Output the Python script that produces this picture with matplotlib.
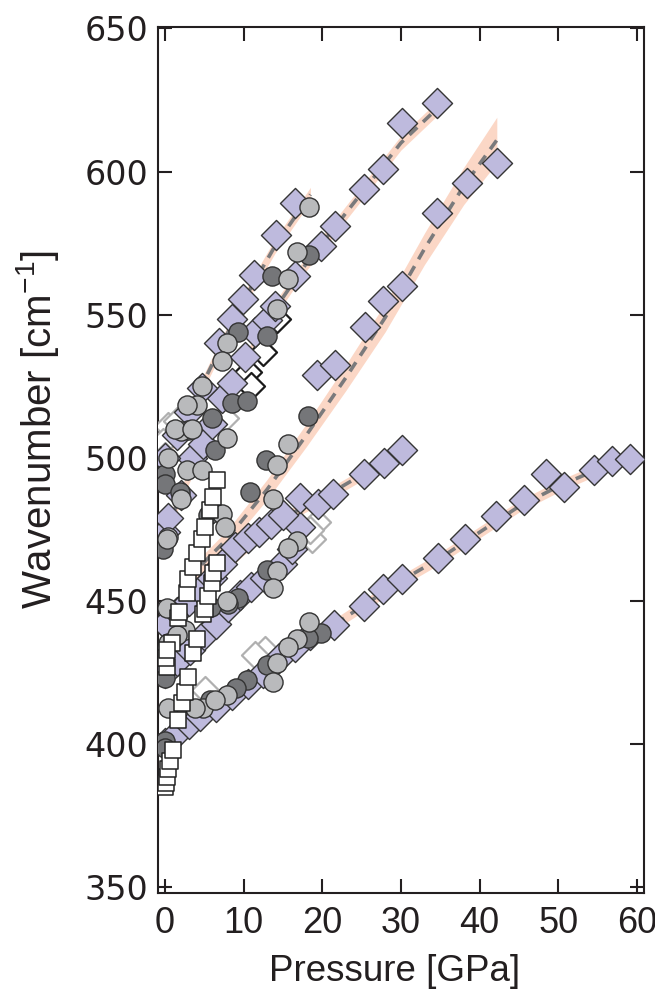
import numpy as np
import matplotlib
matplotlib.use("Agg")
import matplotlib.pyplot as plt

# ---- data (pressure GPa, wavenumber cm-1) ----
# purple diamonds, one list per branch
dia_b1_p = [0.0, 1.5, 3.0, 4.5, 6.5, 8.5, 10.5, 12.5, 14.5, 16.5, 18.5, 21.5, 25.3, 27.7,
            30.1, 34.7, 38.2, 42.1, 45.7, 48.5, 50.7, 54.5, 56.9, 59.1]
dia_b1_w = [400.5, 404, 407, 410, 413, 417, 421, 425, 430, 434, 438, 441.7, 448.3, 454.2,
            457.6, 464.9, 471.5, 479.8, 485.3, 494.3, 489.8, 495.7, 498.8, 499.5]
dia_b2a_p = [0.0, 1.5, 3.2, 5.0, 6.5, 8.0, 9.5, 11.0, 12.7, 14.9, 16.2, 17.2]
dia_b2a_w = [425, 429, 433, 438, 442, 448, 452, 455, 458, 463, 468, 476]
dia_b2b_p = [0.0, 1.5, 3.0, 4.5, 6.0, 7.2, 8.9, 10.5, 12.0, 13.5, 15.0, 17.2, 19.5, 21.4,
             25.3, 27.8, 30.1]
dia_b2b_w = [442, 446, 450, 454, 458, 463, 469, 472, 474, 477, 480, 486, 484, 487.4,
             494.3, 498.1, 502.6]
dia_b3_p = [19.4, 21.6, 25.4, 27.7, 30.1, 34.6, 38.4, 42.2]
dia_b3_w = [529, 532.5, 545.8, 554.8, 560, 585.6, 596, 603]
dia_b4_p = [0.0, 0.4, 2.0, 3.4, 4.8, 6.0, 7.2, 8.5, 10.2, 11.4, 13.0, 14.0, 16.5, 19.8,
            21.6, 25.3, 27.7, 30.1, 34.6]
dia_b4_w = [474, 479, 487, 500, 504.7, 512, 521, 526, 535.4, 544, 548, 553, 563.5, 574,
            581, 594, 601, 617, 624]
dia_b5_p = [0.0, 1.5, 3.0, 4.7, 6.9, 8.5, 9.9, 11.3, 14.1, 16.5]
dia_b5_w = [500, 508, 516, 524.4, 540, 548.6, 555.5, 564, 578, 589]

# light grey circles
lc_p = [18.3, 16.8, 15.6, 14.2, 7.9, 7.2, 4.7, 4.1, 2.8, 2.1, 7.9, 0.4, 2.8, 4.7, 2.1,
        7.2, 0.4, 0.3, 1.3, 3.5, 13.8, 14.2, 15.6, 7.6, 16.8, 15.6, 14.2, 13.7, 7.9,
        0.3, 0.4, 2.5, 1.5, 18.3, 16.8, 15.6, 14.2, 13.7, 7.9, 4.8, 3.8, 0.4, 6.4]
lc_w = [587.7, 571.8, 562.5, 552, 540, 533.7, 525.1, 518.5, 518.5, 509.5, 507.1, 500,
        495.6, 495.6, 485.6, 480.5, 472.5, 471.5, 510, 510, 485.6, 497.4, 504.7, 476,
        470.8, 468.4, 460.4, 454.5, 450, 447.6, 435.5, 440, 438, 442.7, 436.9, 433.8,
        428.5, 421.6, 417.1, 412.6, 412.6, 412.6, 415.5]
# dark grey circles
dc_p = [18.3, 13.6, 13.0, 9.3, 8.5, 10.4, 6.0, 2.9, 6.4, 0.0, 0.0, 1.9, -0.2, 5.5,
        18.2, 12.8, 10.8, 13.0, 9.3, 8.0, -0.2, 0.0, 5.8, 19.9, 18.2, 13.0, 10.4, 9.1,
        5.7, 0.0, 0.0]
dc_w = [571, 563.5, 542.7, 544, 519.2, 519.9, 514, 509.9, 502.6, 494.3, 490.8, 488,
        468, 480, 514.7, 499.1, 488, 461, 451, 449, 432.7, 423, 448, 439, 437.2, 427.5,
        422.3, 419.6, 415.4, 401, 398.5]
# white squares (two steep branches)
sq_p = [0.0, 0.1, 0.2, 0.4, 0.6, 1.0, 1.7, 2.2, 2.5, 2.9, 3.6, 4.1, 4.8, 5.1, 5.5, 6.0,
        6.1, 6.6, 0.3, 0.9, 1.7, 1.8, 2.8, 2.9, 3.6, 4.1, 4.7, 5.1, 5.7, 6.1, 6.6, 0.1, 0.2]
sq_w = [385, 386.5, 388.4, 391.2, 394, 398.1, 408.5, 414.4, 418.2, 423.4, 432, 436.9,
        445.5, 447.2, 451.7, 456.3, 459.7, 463.2, 426.8, 435.5, 444, 446, 452.8, 457.6,
        462, 466.6, 471.5, 476, 481.8, 486.4, 492.2, 430, 433]
# open diamonds
og_p = [0.4, -0.2, 7.6, 0.0, 1.5, 5.1, 12.7, 19.4, 18.7, 18.4, 11.4]
og_w = [511, 505.6, 514, 500.8, 513, 419, 433, 477.7, 471.5, 474.9, 431]
ob_p = [14.2, 10.6, 11.0, 12.5]
ob_w = [548.5, 530, 525, 537]

# fitted curves (dashed) with their uncertainty half-widths
fit1_p = [0, 5, 10, 15, 20, 25, 30, 35, 40, 45, 50, 55, 59]
fit1_w = [401, 410, 420, 430, 439, 448, 457, 465, 474, 483, 490, 496, 499.5]
fit1_e = [2, 2, 2, 2, 2, 2, 2, 2, 2, 2, 2, 2, 2]
fit2a_p = [0, 5, 10, 15, 18]
fit2a_w = [425, 438, 452, 464, 471]
fit2a_e = [2, 2, 2, 2, 2]
fit2b_p = [0, 5, 10, 15, 20, 25, 30]
fit2b_w = [442, 455, 468, 479, 486, 494, 502]
fit2b_e = [2, 2, 2, 2, 2, 2, 2]
fit3_p = [3, 8, 13, 18, 23, 28, 33, 38, 42.2]
fit3_w = [458, 472, 489, 508, 528, 549, 573, 595, 611]
fit3_e = [3, 3, 3.5, 4, 4.5, 5, 5.5, 6.5, 8]
fit4_p = [0, 5, 10, 14, 18, 22, 26, 30, 34.6]
fit4_w = [474, 506, 533, 552, 568, 582, 596, 610, 622]
fit4_e = [2.5, 2.5, 2.5, 2.5, 2.5, 2.5, 2.5, 2.5, 2.5]
fit5_p = [0, 5, 10, 14, 18.5]
fit5_w = [500, 527, 555, 574, 592]
fit5_e = [2.5, 2.5, 2.5, 2.5, 2.5]

# ---- figure ----
fig = plt.figure(figsize=(6.55, 9.94), dpi=100)
ax = fig.add_axes([0.241, 0.1016, 0.742, 0.8712])

fits = [(fit1_p, fit1_w, fit1_e), (fit2a_p, fit2a_w, fit2a_e), (fit2b_p, fit2b_w, fit2b_e),
        (fit3_p, fit3_w, fit3_e), (fit4_p, fit4_w, fit4_e), (fit5_p, fit5_w, fit5_e)]
for p, w, e in fits:
    p = np.array(p); w = np.array(w); e = np.array(e)
    ax.fill_between(p, w - e, w + e, color='#fbd3c0', lw=0, alpha=0.9, zorder=1)
    ax.plot(p, w, color='#7a7a7c', lw=2.6, ls=(0, (3, 2.2)), zorder=2)

ax.scatter(og_p, og_w, marker='D', s=190, facecolor='white', edgecolor='#b0b0b0',
           lw=1.6, zorder=3)
ax.scatter(ob_p, ob_w, marker='D', s=190, facecolor='white', edgecolor='#1a1a1a',
           lw=1.6, zorder=3)

for p, w in [(dia_b1_p, dia_b1_w), (dia_b2a_p, dia_b2a_w), (dia_b2b_p, dia_b2b_w),
             (dia_b3_p, dia_b3_w), (dia_b4_p, dia_b4_w), (dia_b5_p, dia_b5_w)]:
    ax.scatter(p, w, marker='D', s=235, facecolor='#bebadd', edgecolor='#353535',
               lw=1.0, zorder=4)

ax.scatter(dc_p, dc_w, marker='o', s=190, facecolor='#757679', edgecolor='#333333',
           lw=1.0, zorder=5)
ax.scatter(lc_p, lc_w, marker='o', s=190, facecolor='#b9babc', edgecolor='#333333',
           lw=1.0, zorder=5)
ax.scatter(sq_p, sq_w, marker='s', s=120, facecolor='white', edgecolor='#222222',
           lw=1.1, zorder=6)

ax.set_xlim(-0.9, 60.9)
ax.set_ylim(348, 650.5)
ax.set_xticks(range(0, 61, 10))
ax.set_yticks(range(350, 651, 50))
ax.tick_params(direction='in', length=10, width=1.5, top=True, right=True,
               colors='#231f20')
ax.tick_params(axis='x', pad=9)
ax.tick_params(axis='y', pad=7)
for lab in ax.get_xticklabels():
    lab.set_fontfamily('Liberation Sans')
    lab.set_fontsize(26)
for lab in ax.get_yticklabels():
    lab.set_fontfamily('DejaVu Sans')
    lab.set_fontsize(24)
for s in ax.spines.values():
    s.set_linewidth(1.5)
    s.set_color('#231f20')

ax.set_xlabel('Pressure [GPa]', fontsize=26.5, family='Liberation Sans', color='#231f20')
ax.set_ylabel(r'Wavenumber [cm$^{\mathregular{-1}}$]', fontsize=29,
              family='Liberation Sans', color='#231f20')
ax.xaxis.set_label_coords(0.487, -0.071)
ax.yaxis.set_label_coords(-0.20, 0.535)

fig.savefig('out.png', dpi=100)
